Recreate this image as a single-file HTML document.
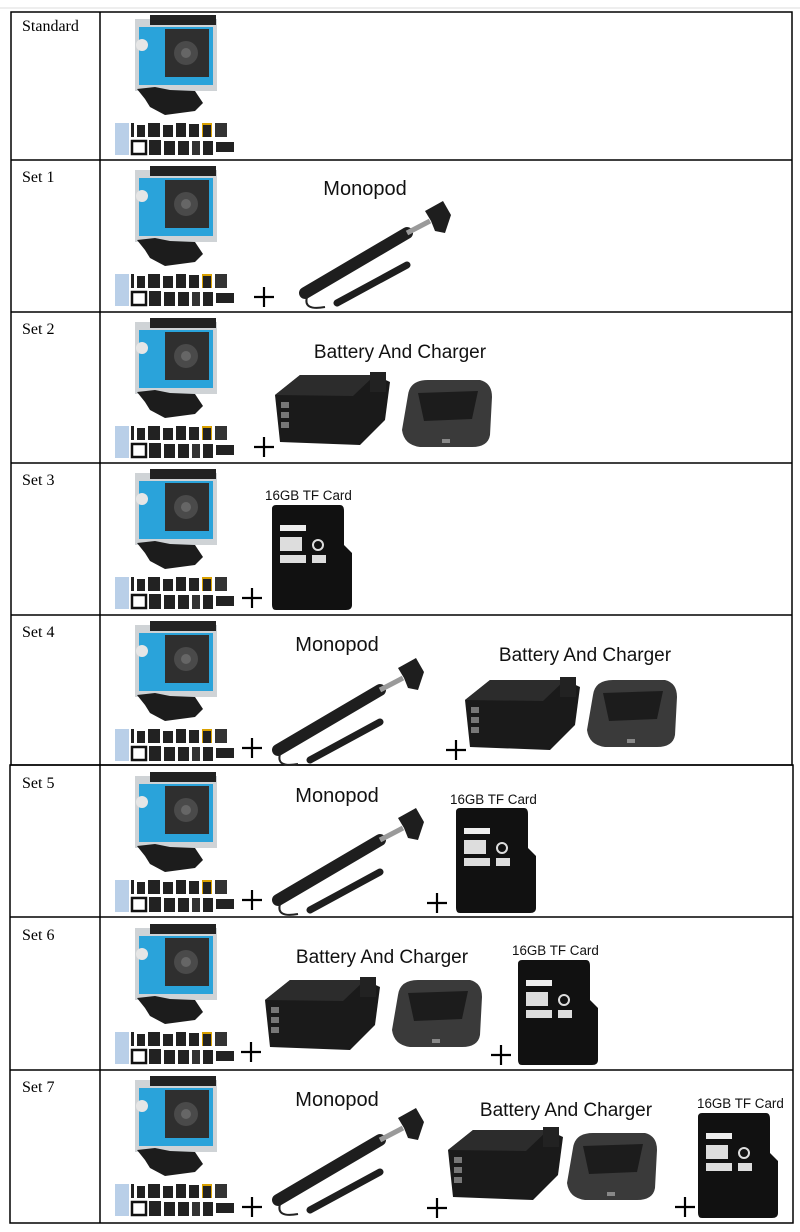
<!DOCTYPE html>
<html><head><meta charset="utf-8"><style>
html,body{margin:0;padding:0;background:#fff}
svg{display:block}
.t{font-family:"Liberation Serif",serif;font-size:16px;fill:#000}
.l{font-family:"Liberation Sans",sans-serif;font-size:19px;fill:#111}
.m{font-family:"Liberation Sans",sans-serif;font-size:20px;fill:#111}
.s{font-family:"Liberation Sans",sans-serif;font-size:13.4px;fill:#111}
.p{stroke:#000;stroke-width:2.2}
</style></head><body>
<svg width="800" height="1232" viewBox="0 0 800 1232" xmlns="http://www.w3.org/2000/svg">
<defs>
<symbol id="cam" viewBox="0 0 130 145" width="130" height="145">
 <rect x="20" y="4" width="82" height="72" fill="#cfd3d6"/>
 <rect x="35" y="0" width="66" height="10" fill="#222"/>
 <rect x="24" y="12" width="74" height="58" fill="#2aa3da"/>
 <rect x="50" y="14" width="44" height="48" fill="#2f2f2f"/>
 <circle cx="71" cy="38" r="12" fill="#4a4a4a"/>
 <circle cx="71" cy="38" r="5" fill="#666"/>
 <circle cx="27" cy="30" r="6" fill="#e6e6e6"/>
 <path d="M22 74 L40 72 L55 75 L80 76 L88 88 L80 96 L50 100 L35 92 L30 84 Z" fill="#1c1c1c"/>
 <rect x="0" y="108" width="14" height="32" fill="#b9cfe8"/>
 <rect x="16" y="108" width="3" height="14" fill="#222"/>
 <rect x="22" y="110" width="8" height="12" fill="#222"/>
 <rect x="33" y="108" width="12" height="14" fill="#222"/>
 <rect x="48" y="110" width="10" height="12" fill="#222"/>
 <rect x="61" y="108" width="10" height="14" fill="#222"/>
 <rect x="74" y="109" width="10" height="13" fill="#222"/>
 <rect x="87" y="108" width="10" height="14" fill="#d9a000"/>
 <rect x="88" y="110" width="8" height="12" fill="#222"/>
 <rect x="100" y="108" width="12" height="14" fill="#333"/>
 <rect x="17" y="126" width="14" height="13" fill="none" stroke="#111" stroke-width="2.5"/>
 <rect x="34" y="125" width="12" height="15" fill="#222"/>
 <rect x="49" y="126" width="11" height="14" fill="#222"/>
 <rect x="63" y="126" width="11" height="14" fill="#222"/>
 <rect x="77" y="126" width="8" height="14" fill="#333"/>
 <rect x="88" y="126" width="10" height="14" fill="#222"/>
 <rect x="101" y="127" width="18" height="10" fill="#222"/>
</symbol>
<symbol id="mono" viewBox="0 0 160 120" width="160" height="120">
 <line x1="10" y1="100" x2="112" y2="40" stroke="#1e1e1e" stroke-width="12" stroke-linecap="round"/>
 <line x1="112" y1="40" x2="135" y2="28" stroke="#9a9a9a" stroke-width="5"/>
 <path d="M130 18 L148 8 L156 22 L150 40 L140 38 L136 28 Z" fill="#1e1e1e"/>
 <line x1="42" y1="110" x2="112" y2="72" stroke="#1e1e1e" stroke-width="7" stroke-linecap="round"/>
 <path d="M12 104 Q8 118 30 114" fill="none" stroke="#222" stroke-width="2"/>
</symbol>
<symbol id="batt" viewBox="0 0 115 75" width="115" height="75">
 <path d="M0 25 L25 5 L100 5 L115 12 L110 50 L85 75 L5 72 Z" fill="#1a1a1a"/>
 <path d="M0 25 L25 5 L100 5 L78 26 Z" fill="#2c2c2c"/>
 <rect x="95" y="2" width="16" height="20" fill="#222"/>
 <rect x="6" y="32" width="8" height="6" fill="#777"/><rect x="6" y="42" width="8" height="6" fill="#777"/><rect x="6" y="52" width="8" height="6" fill="#777"/>
</symbol>
<symbol id="chg" viewBox="0 0 95 75" width="95" height="75">
 <path d="M8 20 Q10 5 28 5 L80 5 Q92 8 92 22 L90 60 Q88 72 72 72 L20 72 Q4 70 2 55 Z" fill="#3a3a3a"/>
 <path d="M18 18 L78 16 L72 44 L24 46 Z" fill="#1c1c1c"/>
 <rect x="42" y="64" width="8" height="4" fill="#888"/>
</symbol>
<symbol id="sd" viewBox="0 0 80 105" width="80" height="105">
 <path d="M4 0 L68 0 Q72 0 72 6 L72 40 L80 48 L80 100 Q80 105 74 105 L4 105 Q0 105 0 100 L0 4 Q0 0 4 0 Z" fill="#111"/>
 <rect x="8" y="20" width="26" height="6" fill="#eee"/>
 <rect x="8" y="32" width="22" height="14" fill="#ddd"/>
 <circle cx="46" cy="40" r="5" fill="none" stroke="#ddd" stroke-width="2"/>
 <rect x="8" y="50" width="26" height="8" fill="#ddd"/>
 <rect x="40" y="50" width="14" height="8" fill="#ddd"/>
</symbol>
</defs>
<rect x="0" y="0" width="800" height="1232" fill="#fff"/>
<line x1="0" y1="8" x2="800" y2="8" stroke="#ddd"/>
<g stroke="#000" stroke-width="1.5" fill="none">
 <rect x="11" y="12" width="781" height="753"/>
 <rect x="10" y="765" width="783" height="458"/>
 <line x1="100" y1="12" x2="100" y2="1223"/>
 <line x1="11" y1="160" x2="792" y2="160"/>
 <line x1="11" y1="312" x2="792" y2="312"/>
 <line x1="11" y1="463" x2="792" y2="463"/>
 <line x1="11" y1="615" x2="792" y2="615"/>
 <line x1="10" y1="917" x2="793" y2="917"/>
 <line x1="10" y1="1070" x2="793" y2="1070"/>
</g>
<text class="t" x="22" y="31">Standard</text>
<text class="t" x="22" y="182">Set 1</text>
<text class="t" x="22" y="334">Set 2</text>
<text class="t" x="22" y="485">Set 3</text>
<text class="t" x="22" y="637">Set 4</text>
<text class="t" x="22" y="788">Set 5</text>
<text class="t" x="22" y="940">Set 6</text>
<text class="t" x="22" y="1092">Set 7</text>
<use href="#cam" x="115" y="15"/>
<use href="#cam" x="115" y="166"/>
<use href="#cam" x="115" y="318"/>
<use href="#cam" x="115" y="469"/>
<use href="#cam" x="115" y="621"/>
<use href="#cam" x="115" y="772"/>
<use href="#cam" x="115" y="924"/>
<use href="#cam" x="115" y="1076"/>
<!-- set1 -->
<text class="m" x="365" y="195" text-anchor="middle">Monopod</text>
<use href="#mono" x="295" y="193"/>
<path class="p" d="M254 297h20M264 287v20"/>
<!-- set2 -->
<text class="l" x="400" y="358" text-anchor="middle">Battery And Charger</text>
<use href="#batt" x="275" y="370"/>
<use href="#chg" x="400" y="375"/>
<path class="p" d="M254 447h20M264 437v20"/>
<!-- set3 -->
<text class="s" x="265" y="500">16GB TF Card</text>
<use href="#sd" x="272" y="505"/>
<path class="p" d="M242 598h20M252 588v20"/>
<!-- set4 -->
<text class="m" x="337" y="651" text-anchor="middle">Monopod</text>
<use href="#mono" x="268" y="650"/>
<path class="p" d="M242 748h20M252 738v20"/>
<text class="l" x="585" y="661" text-anchor="middle">Battery And Charger</text>
<use href="#batt" x="465" y="675"/>
<use href="#chg" x="585" y="675"/>
<path class="p" d="M446 750h20M456 740v20"/>
<!-- set5 -->
<text class="m" x="337" y="802" text-anchor="middle">Monopod</text>
<use href="#mono" x="268" y="800"/>
<path class="p" d="M242 900h20M252 890v20"/>
<path class="p" d="M427 903h20M437 893v20"/>
<text class="s" x="450" y="804">16GB TF Card</text>
<use href="#sd" x="456" y="808"/>
<!-- set6 -->
<text class="l" x="382" y="963" text-anchor="middle">Battery And Charger</text>
<use href="#batt" x="265" y="975"/>
<use href="#chg" x="390" y="975"/>
<path class="p" d="M241 1052h20M251 1042v20"/>
<path class="p" d="M491 1055h20M501 1045v20"/>
<text class="s" x="512" y="955">16GB TF Card</text>
<use href="#sd" x="518" y="960"/>
<!-- set7 -->
<text class="m" x="337" y="1106" text-anchor="middle">Monopod</text>
<use href="#mono" x="268" y="1100"/>
<path class="p" d="M242 1207h20M252 1197v20"/>
<path class="p" d="M427 1208h20M437 1198v20"/>
<text class="l" x="566" y="1116" text-anchor="middle">Battery And Charger</text>
<use href="#batt" x="448" y="1125"/>
<use href="#chg" x="565" y="1128"/>
<path class="p" d="M675 1207h20M685 1197v20"/>
<text class="s" x="697" y="1108">16GB TF Card</text>
<use href="#sd" x="698" y="1113"/>
</svg>
</body></html>
